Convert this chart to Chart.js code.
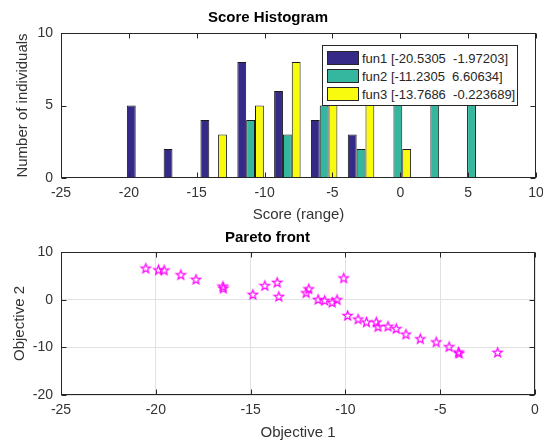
<!DOCTYPE html>
<html>
<head>
<meta charset="utf-8">
<script src="https://cdn.jsdelivr.net/npm/chart.js@4"></script>
<style>
  body { margin: 0; background: #fff; }
  #wrap { position: relative; width: 543px; height: 447px; font-family: "Liberation Sans", Arial, sans-serif; }
  canvas { position: absolute; left: 0; }
  #hist { top: 0; }
  #pareto { top: 225px; }
  #legend { position: absolute; left: 322px; top: 45px; width: 194px; padding: 3px 0 2px 0;
            background: #fff; border: 1px solid #262626; }
  .row { height: 18px; display: flex; align-items: center; }
  .sw { width: 30px; height: 12px; margin: 0 3px 0 4px; border: 1px solid #262626; }
  .lbl { font-size: 13px; color: #262626; white-space: pre; }
</style>
</head>
<body>
<div id="wrap">
  <canvas id="hist" width="543" height="225"></canvas>
  <canvas id="pareto" width="543" height="222"></canvas>
  <div id="legend"></div>
</div>
<script>
// histogram bins (shared by the three functions)
const binCenters = [-19.17, -16.46, -13.75, -11.03, -8.32, -5.61, -2.89, -0.18, 2.54, 5.25];
const fun1Counts = [5, 2, 4, 8, 6, 4, 3, 0, 0, 0];
const fun2Counts = [0, 0, 0, 4, 3, 5, 2, 6, 6, 6];
const fun3Counts = [0, 0, 3, 5, 8, 7, 7, 2, 0, 0];
const seriesNames = ['fun1 [-20.5305  -1.97203]', 'fun2 [-11.2305  6.60634]', 'fun3 [-13.7686  -0.223689]'];
const seriesColors = ['#352a87', '#35b79f', '#f9fb0e'];

// pareto front points
const objective1 = [-20.53, -19.86, -19.56, -18.68, -17.88, -16.46, -16.44, -14.88, -14.25, -13.6, -13.51,
  -12.07, -11.93, -11.44, -11.09, -10.7, -10.44, -10.09, -9.88, -9.33, -8.89, -8.37, -8.28, -7.75,
  -7.32, -6.81, -6.05, -5.21, -4.53, -4.04, -4.0, -1.97];
const objective2 = [6.6, 6.26, 6.2, 5.23, 4.26, 2.82, 2.4, 1.1, 2.95, 3.64, 0.68,
  1.45, 2.27, 0.06, -0.14, -0.56, 0, 4.55, -3.31, -4.07, -4.69, -4.69, -5.66, -5.58,
  -6.07, -7.23, -8.2, -8.88, -9.86, -11.0, -11.23, -11.05];

const font = 'Liberation Sans';
const tickColor = '#333';

// MATLAB style box with inward ticks
const boxPlugin = {
  id: 'box',
  afterDatasetsDraw(chart) {
    const {ctx, chartArea: a, scales: {x, y}} = chart;
    const l = Math.round(a.left) + 0.5, r = Math.round(a.right) - 0.5;
    const t = Math.round(a.top) + 0.5, b = Math.round(a.bottom) - 0.5;
    ctx.save();
    ctx.strokeStyle = '#262626';
    ctx.lineWidth = 1;
    ctx.strokeRect(l, t, r - l, b - t);
    ctx.beginPath();
    x.ticks.forEach(tk => {
      const px = Math.round(x.getPixelForValue(tk.value)) + 0.5;
      ctx.moveTo(px, b); ctx.lineTo(px, b - 5);
      ctx.moveTo(px, t); ctx.lineTo(px, t + 5);
    });
    y.ticks.forEach(tk => {
      const py = Math.round(y.getPixelForValue(tk.value)) + 0.5;
      ctx.moveTo(l, py); ctx.lineTo(l + 5, py);
      ctx.moveTo(r, py); ctx.lineTo(r - 5, py);
    });
    ctx.stroke();
    ctx.restore();
  }
};

function star() {
  const c = document.createElement('canvas');
  c.width = 13; c.height = 13;
  const g = c.getContext('2d');
  g.strokeStyle = '#ff00ff';
  g.lineWidth = 1.2;
  g.beginPath();
  for (let i = 0; i < 10; i++) {
    const rad = i % 2 === 0 ? 4.9 : 2.0;
    const ang = -Math.PI / 2 + i * Math.PI / 5;
    const px = 6.5 + rad * Math.cos(ang), py = 6.9 + rad * Math.sin(ang);
    if (i === 0) g.moveTo(px, py); else g.lineTo(px, py);
  }
  g.closePath();
  g.stroke();
  return c;
}

// keep the axis box fixed, no extra room for edge labels
function fixX(h) {
  return s => { s.height = h; s.paddingLeft = 0; s.paddingRight = 0; };
}

const histCounts = [fun1Counts, fun2Counts, fun3Counts];

new Chart(document.getElementById('hist'), {
  type: 'bar',
  data: {
    datasets: histCounts.map((counts, i) => ({
      label: seriesNames[i],
      data: binCenters.map((c, j) => ({x: c, y: counts[j]})),
      backgroundColor: seriesColors[i],
      borderColor: '#1a1a1a',
      borderWidth: 1,
      borderSkipped: false,
      categoryPercentage: 0.72,
      barPercentage: 1.0
    }))
  },
  options: {
    responsive: false,
    animation: false,
    layout: { padding: { left: 0, right: 7, top: 0, bottom: 0 } },
    plugins: {
      legend: { display: false },
      tooltip: { enabled: false },
      title: {
        display: true,
        text: 'Score Histogram',
        color: '#000',
        font: { family: font, size: 15, weight: 'bold', lineHeight: 1.2 },
        padding: { top: 9, bottom: 6 }
      }
    },
    scales: {
      x: {
        type: 'linear',
        min: -25, max: 10,
        offset: false,
        grid: { display: false, offset: false, drawTicks: false },
        border: { display: false },
        ticks: { stepSize: 5, padding: 7, color: tickColor, font: { family: font, size: 14 } },
        title: { display: true, text: 'Score (range)', color: tickColor,
                 font: { family: font, size: 15 }, padding: { top: 0, bottom: 1 } },
        afterFit: fixX(47)
      },
      y: {
        min: 0, max: 10,
        grid: { display: false, drawTicks: false },
        border: { display: false },
        ticks: { stepSize: 5, padding: 8, color: tickColor, font: { family: font, size: 14 } },
        title: { display: true, text: 'Number of individuals', color: tickColor,
                 font: { family: font, size: 15 }, padding: { top: 14, bottom: 0 } },
        afterFit(s) { s.width = 61; }
      }
    }
  },
  plugins: [boxPlugin]
});

new Chart(document.getElementById('pareto'), {
  type: 'scatter',
  data: {
    datasets: [{
      data: objective1.map((v, i) => ({x: v, y: objective2[i]})),
      pointStyle: star(),
      pointRadius: 6
    }]
  },
  options: {
    responsive: false,
    animation: false,
    layout: { padding: { left: 0, right: 8, top: 0, bottom: 0 } },
    plugins: {
      legend: { display: false },
      tooltip: { enabled: false },
      title: {
        display: true,
        text: 'Pareto front',
        color: '#000',
        font: { family: font, size: 15, weight: 'bold', lineHeight: 1.2 },
        padding: { top: 4, bottom: 5 }
      }
    },
    scales: {
      x: {
        type: 'linear',
        min: -25, max: 0,
        grid: { color: '#e2e2e2', drawTicks: false },
        border: { display: false },
        ticks: { stepSize: 5, padding: 7, color: tickColor, font: { family: font, size: 14 } },
        title: { display: true, text: 'Objective 1', color: tickColor,
                 font: { family: font, size: 15 }, padding: { top: 0, bottom: 5 } },
        afterFit: fixX(52)
      },
      y: {
        min: -20, max: 10,
        grid: { color: '#e2e2e2', drawTicks: false },
        border: { display: false },
        ticks: { stepSize: 10, padding: 8, color: tickColor, font: { family: font, size: 14 } },
        title: { display: true, text: 'Objective 2', color: tickColor,
                 font: { family: font, size: 15 }, padding: { top: 11, bottom: 0 } },
        afterFit(s) { s.width = 61; }
      }
    }
  },
  plugins: [boxPlugin]
});

// legend drawn as html on top of the histogram
const legend = document.getElementById('legend');
seriesNames.forEach((name, i) => {
  const row = document.createElement('div');
  row.className = 'row';
  const sw = document.createElement('div');
  sw.className = 'sw';
  sw.style.background = seriesColors[i];
  const lbl = document.createElement('span');
  lbl.className = 'lbl';
  lbl.textContent = name;
  row.appendChild(sw);
  row.appendChild(lbl);
  legend.appendChild(row);
});
</script>
</body>
</html>
